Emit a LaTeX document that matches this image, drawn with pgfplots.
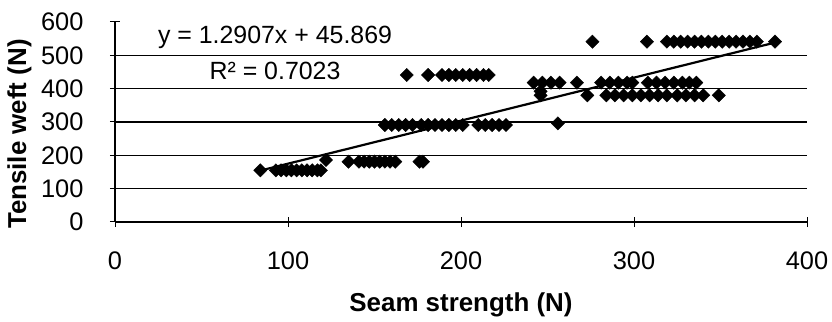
\documentclass[border=0pt]{standalone}
\usepackage{pgfplots}
\pgfplotsset{compat=1.18}
\usepackage{fontspec}
\setmainfont{Liberation Sans}
\begin{document}
\fontsize{25}{30}\selectfont
\begin{tikzpicture}
\useasboundingbox (0,0) rectangle (832bp,322bp);
\begin{axis}[
  at={(115bp,100bp)}, anchor=south west,
  scale only axis, width=692bp, height=200bp,
  xmin=0, xmax=400, ymin=0, ymax=600,
  axis x line*=bottom, axis y line*=left,
  xtick={0,100,...,400}, ytick={0,100,...,600},
  tick align=center, major tick length=10bp,
  tick style={black, line width=1bp},
  axis line style={black, line width=1.2bp},
  extra y ticks={100,200,300,400,500}, extra y tick labels={},
  extra y tick style={grid=major, major tick length=0pt},
  major grid style={black, line width=1.2bp},
  /pgf/number format/assume math mode=true,
  ticklabel style={font=\fontsize{25.5}{30}\selectfont},
  xticklabel style={anchor=base, yshift=-42bp},
  yticklabel style={anchor=east, xshift=-18bp},
  xlabel={Seam strength (N)},
  ylabel={Tensile weft (N)},
  label style={font=\fontsize{26}{30}\selectfont\bfseries},
  xlabel style={at={(axis description cs:0.5,-0.445)}, anchor=base},
  ylabel style={at={(axis description cs:-0.1286,0.44)}, anchor=base},
  clip=false,
]
\addplot[only marks, mark=square*, mark size=4.7bp, mark options={rotate=45, fill=black, draw=black}] table {
x y
84 155
93 155
96 155
99 155
102 155
105 155
108 155
111 155
114 155
117 155
119 155
122 186
135 181
141 181
144 181
147 181
150 181
153 181
156 181
159 181
162 181
176 181
178 181
156 291
160 291
164 291
168 291
172 291
177 291
181 291
185 291
189 291
193 291
197 291
201 291
210 291
214 291
218 291
222 291
226 291
256 296
168.6 441
181 441
189 441
193 441
197 441
201 441
205 441
209 441
213 441
216 441
242 418
247 418
252 418
257 418
267 418
281 418
286 418
291 418
296 418
299 418
308 418
313 418
318 418
323 418
328 418
332 418
336 418
246 392
246 380
273 380
284 380
289 380
294 380
299 380
304 380
309 380
314 380
319 380
325 380
330 380
335 380
340 380
349 380
276 541
307.5 541
319 541
323 541
327 541
331 541
335 541
339 541
343 541
347 541
351 541
355 541
359 541
363 541
367 541
371 541
381.5 541
};
\addplot[black, line width=2.2bp, no marks] coordinates {(83,153.0) (381.5,538.3)};
\node[anchor=base] at (axis cs:92.5,534) {y = 1.2907x + 45.869};
\node[anchor=base] at (axis cs:92.5,426) {R² = 0.7023};
\end{axis}
\end{tikzpicture}
\end{document}
